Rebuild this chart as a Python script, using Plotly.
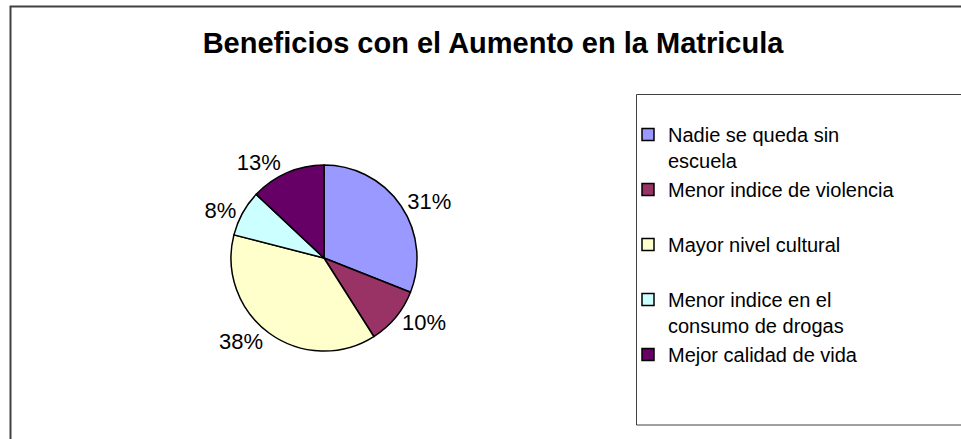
import plotly.graph_objects as go

# データ
categories = [
    "Nadie se queda sin<br>escuela",
    "Menor indice de violencia<br> ",
    "Mayor nivel cultural<br> ",
    "Menor indice en el<br>consumo de drogas",
    "Mejor calidad de vida",
]
values = [31, 10, 38, 8, 13]
colors = ["#9999FF", "#993366", "#FFFFCC", "#CCFFFF", "#660066"]

W, H = 961, 439
FONT = "Arial, Liberation Sans, sans-serif"


def px(x):
    return x / W


def py(y):
    return 1 - y / H


# pie: centre (324, 258), radius ~93 px
cx, cy, r = 324, 258, 93

fig = go.Figure()
fig.add_trace(go.Pie(
    labels=categories,
    values=values,
    sort=False,
    direction="clockwise",
    rotation=0,
    marker=dict(colors=colors, line=dict(color="black", width=1.5)),
    texttemplate="%{percent:.0%}",
    textposition="outside",
    textfont=dict(family=FONT, size=22, color="black"),
    domain=dict(x=[px(cx - r), px(cx + r)], y=[py(cy + r), py(cy - r)]),
    hovertemplate="%{label}: %{value}<extra></extra>",
))

fig.update_layout(
    width=W,
    height=H,
    margin=dict(l=0, r=0, t=0, b=0),
    paper_bgcolor="white",
    plot_bgcolor="white",
    font=dict(family=FONT, color="black"),
    title=dict(
        text="<b>Beneficios con el Aumento en la Matricula</b>",
        font=dict(family=FONT, size=29, color="black"),
        x=px(493), xanchor="center",
        y=py(43), yanchor="middle",
    ),
    legend=dict(
        x=px(628), xanchor="left",
        y=py(115), yanchor="top",
        valign="top",
        font=dict(family=FONT, size=20, color="black"),
        bgcolor="rgba(0,0,0,0)",
        borderwidth=0,
        itemclick=False,
    ),
    shapes=[
        # 外枠
        dict(type="rect", xref="paper", yref="paper",
             x0=px(10.5), x1=px(975), y0=py(450), y1=py(6.5),
             line=dict(color="#404040", width=2), fillcolor="rgba(0,0,0,0)"),
        # 凡例枠
        dict(type="rect", xref="paper", yref="paper",
             x0=px(636.5), x1=px(975), y0=py(425), y1=py(94.5),
             line=dict(color="#404040", width=1), fillcolor="rgba(0,0,0,0)"),
    ],
)

fig.write_html("out.html", config={"displayModeBar": False},
               post_script="document.body.style.margin='0';")
